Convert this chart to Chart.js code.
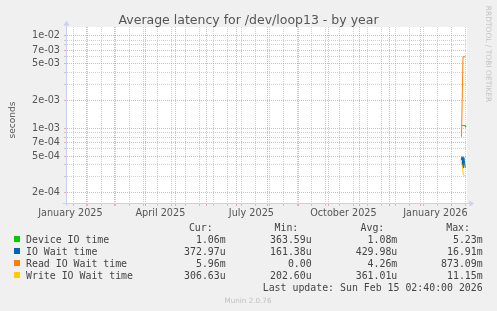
<!DOCTYPE html>
<html>
<head>
<meta charset="utf-8">
<script src="https://cdn.jsdelivr.net/npm/chart.js@4.4.1/dist/chart.umd.min.js"></script>
<style>
  html, body { margin: 0; padding: 0; background: #f0f0f0; }
  #wrap { position: relative; width: 497px; height: 311px; overflow: hidden; }
  #chart { position: absolute; left: 0; top: 0; }
  .txt { position: absolute; white-space: pre; line-height: 14px; height: 14px; }
  .swatch { position: absolute; width: 6px; height: 6px; }
</style>
</head>
<body>
<div id="wrap">
  <canvas id="chart" width="497" height="311"></canvas>
</div>
<script>
// x values are days counted from 1 January 2025
const monthStartDays = [31, 59, 90, 120, 151, 181, 212, 243, 273, 304, 334, 365, 396];
const biweeklyDays = [18, 32, 46, 60, 74, 88, 102, 116, 130, 144, 158, 172, 186, 200, 214,
  228, 242, 256, 270, 284, 298, 312, 326, 340, 354, 368, 382, 396, 410];
const labelDays = [15, 105, 196, 288, 380];
const labelTexts = ['January 2025', 'April 2025', 'July 2025', 'October 2025', 'January 2026'];

const yMajorTicks = [2e-4, 5e-4, 7e-4, 1e-3, 2e-3, 5e-3, 7e-3, 1e-2];
const yMinorTicks = [3e-4, 4e-4, 6e-4, 8e-4, 9e-4, 3e-3, 4e-3, 6e-3, 8e-3, 9e-3];

const seriesNames = ['Device IO time', 'IO Wait time', 'Read IO Wait time', 'Write IO Wait time'];
const seriesColors = ['#00cc00', '#0066b3', '#ff8000', '#ffcc00'];

const deviceDays = [405.7, 406.7, 407.7, 408.7, 409.6, 410.2];
const deviceValues = [1.07e-3, 1.07e-3, 1.07e-3, 1.07e-3, 1.07e-3, 1.03e-3];
const ioWaitDays = [405.7, 406.6, 407.5, 408.5, 409.8];
const ioWaitValues = [4.5e-4, 4.9e-4, 3.7e-4, 4.8e-4, 3.73e-4];
const readDays = [406.1, 407.6, 408.6, 409.6, 410.2];
const readValues = [8.1e-4, 5.96e-3, 5.96e-3, 5.96e-3, 5.96e-3];
const writeDays = [405.7, 406.9, 408.0, 409.0, 409.9];
const writeValues = [4.35e-4, 3.9e-4, 3.12e-4, 3.07e-4, 3.07e-4];

const curText = ['1.06m', '372.97u', '5.96m', '306.63u'];
const minText = ['363.59u', '161.38u', '0.00', '202.60u'];
const avgText = ['1.08m', '429.98u', '4.26m', '361.01u'];
const maxText = ['5.23m', '16.91m', '873.09m', '11.15m'];

const RED_GRID = 'rgba(235, 120, 120, 0.6)';
const GRAY_GRID = 'rgba(150, 150, 150, 0.45)';
const AXIS_COLOR = 'rgb(200, 206, 245)';

function pts(xs, ys) {
  return xs.map((x, i) => ({ x: x, y: ys[i] }));
}

function fmtExp(v) {
  const e = Math.floor(Math.log10(v) + 1e-9);
  const m = Math.round(v / Math.pow(10, e));
  return m + 'e' + (e < 0 ? '-' : '+') + String(Math.abs(e)).padStart(2, '0');
}

const xTickValues = Array.from(new Set([...monthStartDays, ...biweeklyDays, ...labelDays])).sort((a, b) => a - b);
const yTickValues = [...yMajorTicks, ...yMinorTicks].sort((a, b) => a - b);

function xGridColor(ctx) {
  const v = ctx.tick ? ctx.tick.value : null;
  if (monthStartDays.includes(v)) return RED_GRID;
  if (biweeklyDays.includes(v)) return GRAY_GRID;
  return 'rgba(0,0,0,0)';
}

function yGridColor(ctx) {
  const v = ctx.tick ? ctx.tick.value : null;
  return yMajorTicks.includes(v) ? RED_GRID : GRAY_GRID;
}

const plotBackground = {
  id: 'plotBackground',
  beforeDraw(chart) {
    const a = chart.chartArea;
    const c = chart.ctx;
    c.save();
    c.fillStyle = '#ffffff';
    c.fillRect(a.left, a.top, a.right - a.left, a.bottom - a.top);
    c.restore();
  }
};

// small arrow heads at the end of both axes, like rrdtool
const axisArrows = {
  id: 'axisArrows',
  afterDraw(chart) {
    const a = chart.chartArea;
    const c = chart.ctx;
    c.save();
    c.strokeStyle = AXIS_COLOR;
    c.fillStyle = AXIS_COLOR;
    c.lineWidth = 1;
    c.beginPath();
    c.moveTo(a.left + 0.5, a.top - 2);
    c.lineTo(a.left + 0.5, a.bottom + 3);
    c.moveTo(a.left - 3, a.bottom + 0.5);
    c.lineTo(a.right + 3, a.bottom + 0.5);
    c.stroke();
    c.beginPath();
    c.moveTo(a.left + 0.5, a.top - 6.5);
    c.lineTo(a.left - 2.5, a.top - 1.5);
    c.lineTo(a.left + 3.5, a.top - 1.5);
    c.closePath();
    c.fill();
    c.beginPath();
    c.moveTo(a.right + 7, a.bottom + 0.5);
    c.lineTo(a.right + 2.5, a.bottom - 2.5);
    c.lineTo(a.right + 2.5, a.bottom + 3.5);
    c.closePath();
    c.fill();
    c.restore();
  }
};

const datasets = [
  { label: seriesNames[0], data: pts(deviceDays, deviceValues), borderColor: seriesColors[0], order: 4 },
  { label: seriesNames[1], data: pts(ioWaitDays, ioWaitValues), borderColor: seriesColors[1], order: 3 },
  { label: seriesNames[2], data: pts(readDays, readValues), borderColor: seriesColors[2], order: 2 },
  { label: seriesNames[3], data: pts(writeDays, writeValues), borderColor: seriesColors[3], order: 1 }
].map(d => Object.assign(d, { borderWidth: 1, pointRadius: 0, tension: 0, fill: false }));

const tickFont = { family: 'DejaVu Sans', size: 9.7 };

new Chart(document.getElementById('chart'), {
  type: 'line',
  data: { datasets: datasets },
  plugins: [plotBackground, axisArrows],
  options: {
    responsive: false,
    animation: false,
    layout: { padding: { top: 27, right: 30, bottom: 88, left: 0 } },
    plugins: { legend: { display: false }, tooltip: { enabled: false }, title: { display: false } },
    scales: {
      x: {
        type: 'linear',
        min: 10.6,
        max: 411.6,
        bounds: 'data',
        afterFit: s => { s.height = 20; },
        afterBuildTicks: s => { s.ticks = xTickValues.map(v => ({ value: v })); },
        grid: { color: xGridColor, tickLength: 3, lineWidth: 1 },
        border: { color: AXIS_COLOR, dash: [1, 1] },
        ticks: {
          autoSkip: false,
          maxRotation: 0,
          minRotation: 0,
          padding: 2,
          color: '#555',
          font: tickFont,
          callback: v => {
            const i = labelDays.indexOf(v);
            return i >= 0 ? labelTexts[i] : '';
          }
        }
      },
      y: {
        type: 'logarithmic',
        min: 1.55e-4,
        max: 1.25e-2,
        bounds: 'data',
        afterFit: s => { s.width = 66; },
        afterBuildTicks: s => { s.ticks = yTickValues.map(v => ({ value: v })); },
        grid: { color: yGridColor, tickLength: 2, lineWidth: 1 },
        border: { color: AXIS_COLOR, dash: [1, 1] },
        ticks: {
          autoSkip: false,
          padding: 4,
          color: '#555',
          font: tickFont,
          callback: v => yMajorTicks.includes(v) ? fmtExp(v) : ''
        }
      }
    }
  }
});

// ---- texts around the chart ----
const wrap = document.getElementById('wrap');
const LH = 14;

function addText(text, x, baseline, opts) {
  const d = document.createElement('div');
  d.className = 'txt';
  d.textContent = text;
  const size = opts.size;
  d.style.fontFamily = opts.family;
  d.style.fontSize = size + 'px';
  d.style.color = opts.color;
  d.style.top = (baseline - LH / 2 - 0.346 * size) + 'px';
  if (opts.align === 'right') {
    d.style.right = (497 - x) + 'px';
    d.style.textAlign = 'right';
  } else if (opts.align === 'center') {
    d.style.left = (x - 250) + 'px';
    d.style.width = '500px';
    d.style.textAlign = 'center';
  } else {
    d.style.left = x + 'px';
  }
  wrap.appendChild(d);
  return d;
}

function addRotated(text, cx, cy, angle, opts) {
  const d = document.createElement('div');
  d.className = 'txt';
  d.textContent = text;
  d.style.fontFamily = opts.family;
  d.style.fontSize = opts.size + 'px';
  d.style.color = opts.color;
  d.style.width = '200px';
  d.style.textAlign = 'center';
  d.style.left = (cx - 100) + 'px';
  d.style.top = (cy - LH / 2) + 'px';
  d.style.transformOrigin = '50% 50%';
  d.style.transform = 'rotate(' + angle + 'deg)';
  wrap.appendChild(d);
}

const sans = 'DejaVu Sans';
const mono = 'DejaVu Sans Mono';

addText('Average latency for /dev/loop13 - by year', 248.5, 24, { family: sans, size: 12.5, color: '#555', align: 'center' });
addRotated('seconds', 11.9, 119.5, -90, { family: sans, size: 9, color: '#555' });
addRotated('RRDTOOL / TOBI OETIKER', 487.6, 53.5, 90, { family: sans, size: 7.5, color: '#c4c4c4' });

const legendFont = { family: mono, size: 9.9, color: '#444' };
const headerRight = [212.7, 298.3, 384.3, 470];
const valueRight = [225.7, 311.7, 397.3, 482.7];
['Cur:', 'Min:', 'Avg:', 'Max:'].forEach((h, i) => {
  addText(h, headerRight[i], 231, Object.assign({ align: 'right' }, legendFont));
});

seriesNames.forEach((name, i) => {
  const base = 243.2 + i * 12;
  const sw = document.createElement('div');
  sw.className = 'swatch';
  sw.style.left = '14px';
  sw.style.top = (base - 6.8) + 'px';
  sw.style.background = seriesColors[i];
  wrap.appendChild(sw);
  addText(name, 26, base, legendFont);
  [curText[i], minText[i], avgText[i], maxText[i]].forEach((t, j) => {
    addText(t, valueRight[j], base, Object.assign({ align: 'right' }, legendFont));
  });
});

addText('Last update: Sun Feb 15 02:40:00 2026', 482.7, 291, Object.assign({ align: 'right' }, legendFont));
addText('Munin 2.0.76', 248, 303.3, { family: sans, size: 7.2, color: '#c0c0c0', align: 'center' });
</script>
</body>
</html>
